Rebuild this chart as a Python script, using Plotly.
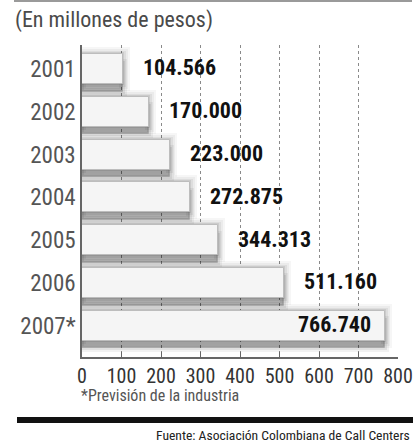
import plotly.graph_objects as go

# Ingresos del sector de call centers (en millones de pesos)
years = ["2001", "2002", "2003", "2004", "2005", "2006", "2007*"]
values = [104.566, 170.000, 223.000, 272.875, 344.313, 511.160, 766.740]
x_ticks = [0, 100, 200, 300, 400, 500, 600, 700, 800]

title_text = "(En millones de pesos)"
note_text = "*Previsión de la industria"
source_text = "Fuente: Asociación Colombiana de Call Centers"

W, H = 415, 442
L, R, T, B = 82, 17, 45, 85
PW, PH = W - L - R, H - T - B

NARROW = "Liberation Sans Narrow, Roboto Condensed, DejaVu Sans Condensed, Arial Narrow, sans-serif"


def px(xp):
    return (xp - L) / PW


def py(yp):
    return (H - B - yp) / PH


idx = list(range(len(years)))
fig = go.Figure()

# soft glow around each bar
for lw, alpha in [(14, 0.035), (10, 0.045), (6, 0.06), (3, 0.08)]:
    fig.add_trace(go.Bar(
        x=values, y=idx, orientation="h", width=0.7,
        marker=dict(color="rgba(0,0,0,0)", line=dict(width=lw, color=f"rgba(0,0,0,{alpha})")),
        hoverinfo="skip", showlegend=False,
    ))

# drop shadow below each bar
for lw, alpha, fill in [(8, 0.05, 0.0), (4, 0.07, 0.0), (1, 0.08, 0.27)]:
    fig.add_trace(go.Bar(
        x=values, y=[i + 0.2 for i in idx], orientation="h", width=0.66,
        marker=dict(color=f"rgba(0,0,0,{fill})", line=dict(width=lw, color=f"rgba(0,0,0,{alpha})")),
        hoverinfo="skip", showlegend=False,
    ))

# main bars
fig.add_trace(go.Bar(
    x=values, y=idx, orientation="h", width=0.7,
    marker=dict(color="#f5f5f5", line=dict(width=1, color="#bdbdbd")),
    showlegend=False,
))

# value labels: outside the bar, except the last one which sits inside
for i, v in enumerate(values):
    inside = i == len(values) - 1
    fig.add_annotation(
        x=v, y=i, xref="x", yref="y",
        text=f"{v:.3f}", showarrow=False,
        xanchor="right" if inside else "left",
        xshift=-12 if inside else 18, yshift=1,
        font=dict(family=NARROW, size=22, color="#111111", weight="bold"),
    )

# heading, footnote and source
fig.add_annotation(x=px(13), y=py(20), xref="paper", yref="paper", text=title_text,
                   showarrow=False, xanchor="left", yanchor="middle",
                   font=dict(family=NARROW, size=22, color="#4a4a4a"))
fig.add_annotation(x=px(79), y=py(395), xref="paper", yref="paper", text=note_text,
                   showarrow=False, xanchor="left", yanchor="middle",
                   font=dict(family=NARROW, size=16, color="#555555"))
fig.add_annotation(x=px(412), y=py(435), xref="paper", yref="paper", text=source_text,
                   showarrow=False, xanchor="right", yanchor="middle",
                   font=dict(family=NARROW, size=13.6, color="#222222"))

# top rule and bottom heavy rule
fig.add_shape(type="line", xref="paper", yref="paper", x0=px(14), x1=px(412),
              y0=py(1), y1=py(1), line=dict(color="#9a9a9a", width=2))
fig.add_shape(type="rect", xref="paper", yref="paper", x0=px(17), x1=px(413),
              y0=py(417), y1=py(423), line=dict(width=0), fillcolor="#111111")

fig.update_layout(
    width=W, height=H,
    margin=dict(l=L, r=R, t=T, b=B, autoexpand=False),
    paper_bgcolor="white", plot_bgcolor="white",
    barmode="overlay", bargap=0,
    xaxis=dict(
        range=[0, 800], tickvals=x_ticks, ticktext=[str(t) for t in x_ticks],
        showgrid=True, gridcolor="#8a8a8a", griddash="dot", gridwidth=1,
        zeroline=False, showline=True, linecolor="#666666", linewidth=1.5,
        ticks="inside", ticklen=5, tickcolor="#666666",
        tickfont=dict(family=NARROW, size=20, color="#333333"),
        automargin=False, fixedrange=True,
    ),
    yaxis=dict(
        range=[6.73, -0.56], tickvals=idx, ticktext=years,
        showgrid=False, zeroline=False, showline=True, linecolor="#666666", linewidth=1.5,
        ticks="", tickfont=dict(family=NARROW, size=23, color="#555555"),
        automargin=False, fixedrange=True,
    ),
)

fig.write_html("out.html")
